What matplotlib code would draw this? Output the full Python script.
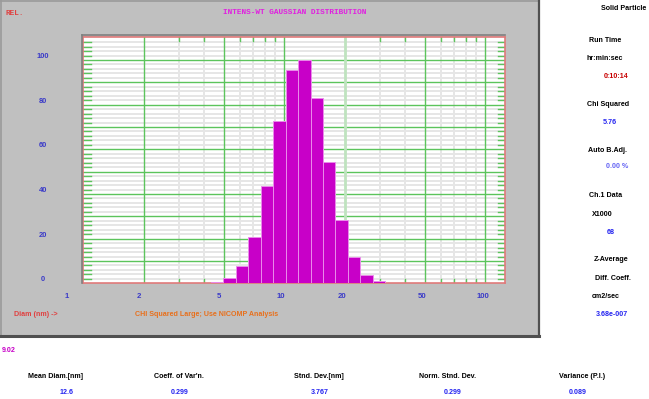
import numpy as np
import matplotlib.pyplot as plt
import matplotlib.transforms as mtransforms
from matplotlib.patches import Rectangle
from matplotlib.lines import Line2D

# ---------- data ----------
bin_edges = [4.32, 4.97, 5.73, 6.62, 7.63, 8.79, 10.16, 11.70, 13.53,
             15.58, 17.94, 20.74, 23.88, 27.62, 31.81]
intensity = [0.5, 2.2, 7.6, 20.9, 43.7, 72.7, 95.7, 100.0, 82.8,
             54.5, 28.2, 11.6, 3.6, 1.0]

ytick_vals = [0, 20, 40, 60, 80, 100]
xtick_vals = [1, 2, 5, 10, 20, 50, 100]
xtick_labels = ["1", "2", "5", "10", "20", "50", "100"]
xtick_shift = [-17, -5, -5, -3, -3, -3, -2]  # px, labels sit left of grid lines

side_labels = ["Solid Particle", "Run Time", "hr:min:sec", "0:10:14",
               "Chi Squared", "5.76", "Auto B.Adj.", "0.00 %",
               "Ch.1 Data", "X1000", "68", "Z-Average", "Diff. Coeff.",
               "cm2/sec", "3.68e-007"]

stat_names = ["Mean Diam.[nm]", "Coeff. of Var'n.", "Stnd. Dev.[nm]",
              "Norm. Stnd. Dev.", "Variance (P.I.)"]
stat_values = ["12.6", "0.299", "3.767", "0.299", "0.089"]

# ---------- style ----------
W, H = 649, 399
NARROW = ["Liberation Sans Narrow", "Liberation Sans", "DejaVu Sans"]
MONO = ["Liberation Mono", "DejaVu Sans Mono"]
BLUE = "#2424f0"
TICKBLUE = "#3a3ac8"
GREEN = "#5cc45c"
LIGHT = "#e6e6e6"
FS = 5.1

fig = plt.figure(figsize=(W / 100, H / 100), dpi=100, facecolor="white")


def fx(px):
    return px / W


def fy(py):
    return 1 - py / H


def ftext(px, py, s, color="black", size=FS, family=NARROW, ha="center",
          weight="bold"):
    fig.text(fx(px), fy(py), s, color=color, fontsize=size, family=family,
             ha=ha, va="center", weight=weight)


# gray panel with 3d border
fig.patches.append(Rectangle((0, fy(336)), fx(539), 336 / H,
                             transform=fig.transFigure, facecolor="#c0c0c0",
                             edgecolor="none", zorder=-5))
for xs, ys, c, lw in [
    ([0, 539], [1, 1], "#9a9a9a", 1.2),
    ([1, 1], [0, 336], "#9a9a9a", 1.2),
    ([538.5, 538.5], [0, 336], "#505050", 1.6),
    ([0, 539], [335.5, 335.5], "#505050", 2.2),
]:
    fig.add_artist(Line2D([fx(x) for x in xs], [fy(y) for y in ys], color=c,
                          lw=lw, transform=fig.transFigure, zorder=-4))

# ---------- plot area ----------
L, R, T, B = 83.3, 505, 36.7, 283.3
ax = fig.add_axes([fx(L), fy(B), fx(R - L), (B - T) / H])
ax.set_xscale("log")
ax.set_xlim(1, 10 ** ((R - L) / 201))
ax.set_ylim(0, (B - T) / 2.233)
ax.set_facecolor("white")
ax.set_xticks([])
ax.set_yticks([])
ax.minorticks_off()
for s in ax.spines.values():
    s.set_color("#e07a7a")
    s.set_linewidth(1.2)

# horizontal grid
for y in range(2, 110, 2):
    if y % 10 == 0:
        ax.axhline(y, color=GREEN, lw=1.0, zorder=1)
    else:
        ax.axhline(y, color=LIGHT, lw=1.4, zorder=0.5)
        ax.plot([0, 0.019], [y, y], transform=ax.get_yaxis_transform(),
                color=GREEN, lw=1.0, zorder=1)
        ax.plot([0.983, 1], [y, y], transform=ax.get_yaxis_transform(),
                color=GREEN, lw=1.0, zorder=1)

# vertical grid
for x in [3, 4, 6, 7, 8, 9, 30, 40, 60, 70, 80, 90]:
    ax.axvline(x, color=LIGHT, lw=1.4, zorder=0.5)
    for y0, y1 in [(0, 0.018), (0.982, 1)]:
        ax.plot([x, x], [y0, y1], transform=ax.get_xaxis_transform(),
                color=GREEN, lw=1.0, zorder=1)
for x in [2, 5, 10, 50, 100]:
    ax.axvline(x, color=GREEN, lw=1.0, zorder=1)
ax.axvline(20, color="#bfe3bf", lw=2.0, zorder=1)

# histogram bars
edges = np.array(bin_edges)
ax.bar(edges[:-1], intensity, width=np.diff(edges), align="edge",
       color="#c800c8", edgecolor="#ea8cea", linewidth=0.7, zorder=3)

# outer dark frame on top and left
fig.add_artist(Line2D([fx(L - 1.5), fx(R)], [fy(T - 1.5)] * 2, color="#808080",
                      lw=1.2, transform=fig.transFigure))
fig.add_artist(Line2D([fx(L - 1.5)] * 2, [fy(T - 1.5), fy(B)], color="#808080",
                      lw=1.2, transform=fig.transFigure))

# y labels
ytr = mtransforms.blended_transform_factory(fig.transFigure, ax.transData) + \
    mtransforms.ScaledTranslation(0, 3.5 / 100, fig.dpi_scale_trans)
for v in ytick_vals:
    ax.text(fx(43), v, str(v), transform=ytr, ha="center", va="center",
            color=TICKBLUE, fontsize=5.4, family=NARROW, weight="bold",
            clip_on=False)

# x labels
for v, lab, sh in zip(xtick_vals, xtick_labels, xtick_shift):
    xtr = mtransforms.blended_transform_factory(ax.transData, fig.transFigure) + \
        mtransforms.ScaledTranslation(sh / 100, 0, fig.dpi_scale_trans)
    ax.text(v, fy(296), lab, transform=xtr, ha="center", va="center",
            color=TICKBLUE, fontsize=5.6, family=NARROW, weight="bold",
            clip_on=False)

# ---------- texts on panel ----------
ftext(15, 13.5, "REL.", color="#e04040", size=5.6, family=MONO)
ftext(294.5, 12, "INTENS-WT GAUSSIAN DISTRIBUTION", color="#e020e0",
      size=5.6, family=MONO)
ftext(14, 314.7, "Diam (nm) ->", color="#e04040", ha="left")
ftext(135, 314.7, "CHI Squared Large; Use NICOMP Analysis", color="#e8701c",
      ha="left")

# ---------- right column ----------
side_x = [623.5, 605.5, 605, 616, 608, 610, 607.5, 617, 606, 602.5, 610.3,
          611.5, 612.5, 606, 611.5]
side_y = [8, 40, 58, 76, 104, 122, 150, 167, 195.3, 214, 232, 259.7, 278,
          296, 314.7]
side_c = ["black", "black", "black", "#c80000", "black", BLUE, "black",
          "#6464f4", "black", "black", BLUE, "black", "black", "black", BLUE]
for s, x, y, c in zip(side_labels, side_x, side_y, side_c):
    ftext(x, y, s, color=c)

# ---------- bottom statistics ----------
ftext(2, 351, "9.02", color="#c800c8", ha="left")
name_x = [56, 179, 319, 448, 582]
val_x = [67, 180, 320, 453, 578]
for n, v, nx, vx in zip(stat_names, stat_values, name_x, val_x):
    ftext(nx, 376, n)
    ftext(vx, 392, v, color=BLUE)

fig.savefig("out.png", dpi=100, facecolor="white")
